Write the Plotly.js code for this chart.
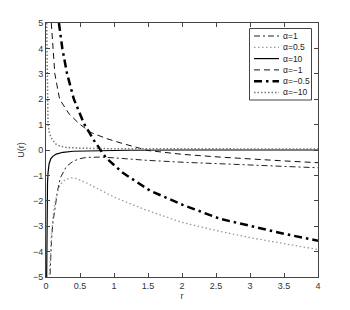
<!DOCTYPE html>
<html>
<head>
<meta charset="utf-8">
<script src="https://cdn.plot.ly/plotly-3.0.1.min.js"></script>
<style>html,body{margin:0;padding:0;background:#fff;}#chart{width:350px;height:310px;}</style>
</head>
<body>
<div id="chart"></div>
<script>
// series labels
const labels = ["α=1", "α=0.5", "α=10", "α=−1", "α=−0.5", "α=−10"];

// α = 1
const r_a1 = [0.06,0.07,0.08,0.1,0.13,0.17,0.21,0.3,0.4,0.5,0.6,0.8,1.0,1.25,1.5,2.0,2.5,3.0,3.5,4.0];
const u_a1 = [-4.9,-4.2,-3.6,-2.9,-2.3,-1.6,-1.1,-0.65,-0.44,-0.34,-0.29,-0.28,-0.31,-0.36,-0.41,-0.48,-0.54,-0.6,-0.65,-0.7];

// α = 0.5
const r_a05 = [0.05,0.06,0.08,0.1,0.13,0.17,0.21,0.28,0.37,0.45,0.6,0.8,1.0,1.25,1.5,2.0,2.5,3.0,3.5,4.0];
const u_a05 = [-4.9,-4.2,-3.3,-2.7,-2.1,-1.65,-1.36,-1.17,-1.1,-1.13,-1.3,-1.58,-1.85,-2.13,-2.39,-2.85,-3.17,-3.45,-3.7,-3.92];

// α = 10
const r_a10 = [0.01,0.012,0.016,0.022,0.03,0.045,0.07,0.1,0.15,0.25,0.4,0.7,1.2,2.0,4.0];
const u_a10 = [-5,-3.2,-2.0,-1.3,-0.9,-0.55,-0.35,-0.25,-0.16,-0.09,-0.05,-0.03,-0.01,0,0];

// α = -1
const r_m1 = [0.078,0.1,0.13,0.2,0.34,0.49,0.66,0.89,1.12,1.5,2.0,2.56,3.0,3.5,4.0];
const u_m1 = [5,4,3,2,1.42,1.03,0.69,0.45,0.26,-0.02,-0.17,-0.28,-0.36,-0.43,-0.5];

// α = -0.5
const r_m05 = [0.19,0.24,0.31,0.41,0.56,0.71,0.88,1.13,1.53,2.01,2.56,3.0,3.5,4.0];
const u_m05 = [5,4,3,2,1.03,0.36,-0.3,-0.9,-1.6,-2.16,-2.71,-3.0,-3.3,-3.57];

// α = -10
const r_m10 = [0.01,0.015,0.02,0.03,0.05,0.09,0.15,0.22,0.3,0.5,1.0,2.0,4.0];
const u_m10 = [5,3.2,2.0,1.0,0.65,0.42,0.22,0.14,0.1,0.07,0.05,0.04,0.04];

// axis ticks
const xTicks = [0,0.5,1,1.5,2,2.5,3,3.5,4];
const xTickText = ["0","0.5","1","1.5","2","2.5","3","3.5","4"];
const yTicks = [-5,-4,-3,-2,-1,0,1,2,3,4,5];
const yTickText = ["−5","−4","−3","−2","−1","0","1","2","3","4","5"];

const styles = [
  {color:"#222", width:1, dash:"6px,3px,2px,3px"},
  {color:"#999", width:1.3, dash:"1.5px,2.5px"},
  {color:"#000", width:1.2, dash:"solid"},
  {color:"#111", width:1, dash:"6px,4px"},
  {color:"#000", width:2.5, dash:"8px,4px,2.5px,4px"},
  {color:"#777", width:1.5, dash:"1.5px,2px"}
];
const xs = [r_a1, r_a05, r_a10, r_m1, r_m05, r_m10];
const ys = [u_a1, u_a05, u_a10, u_m1, u_m05, u_m10];

const traces = xs.map((x, i) => ({x:x, y:ys[i], name:labels[i], mode:"lines", line:styles[i]}));

const axisFont = {family:"Liberation Sans, Arial, sans-serif", size:9, color:"#333"};
const legFont = {family:"Liberation Sans, Arial, sans-serif", size:8.5, color:"#222"};

// manual legend box (paper coordinates)
const plotL = 46, plotW = 272, plotB = 277, plotH = 254;
const px = v => (v - plotL) / plotW;
const py = v => (plotB - v) / plotH;
const shapes = [{type:"rect", xref:"paper", yref:"paper", x0:px(249.5), x1:px(311.5), y0:py(28.5), y1:py(100),
  line:{color:"#444", width:1}, fillcolor:"#fff", layer:"above"}];
const annotations = [];
labels.forEach((lab, i) => {
  const yc = 36 + i * 11.3;
  shapes.push({type:"line", xref:"paper", yref:"paper", x0:px(254), x1:px(279), y0:py(yc), y1:py(yc),
    line:styles[i], layer:"above"});
  annotations.push({xref:"paper", yref:"paper", x:px(281), y:py(yc), text:lab, showarrow:false,
    xanchor:"left", yanchor:"middle", font:legFont});
});

const layout = {
  width:350, height:310,
  margin:{l:46, r:32, t:23, b:33},
  paper_bgcolor:"#fff", plot_bgcolor:"#fff",
  font:axisFont,
  showlegend:false,
  xaxis:{
    range:[0,4], tickvals:xTicks, ticktext:xTickText,
    ticks:"inside", ticklen:4, tickcolor:"#444", mirror:"ticks",
    showline:true, linecolor:"#444", linewidth:1,
    showgrid:false, zeroline:false, tickfont:axisFont,
    title:{text:"r", font:axisFont, standoff:0}
  },
  yaxis:{
    range:[-5,5], tickvals:yTicks, ticktext:yTickText,
    ticks:"inside", ticklen:4, tickcolor:"#444", mirror:"ticks",
    showline:true, linecolor:"#444", linewidth:1,
    showgrid:false, zeroline:false, tickfont:axisFont,
    title:{text:"U(r)", font:axisFont, standoff:6}
  },
  shapes:shapes,
  annotations:annotations
};

Plotly.newPlot("chart", traces, layout, {staticPlot:true, displayModeBar:false});
</script>
</body>
</html>
